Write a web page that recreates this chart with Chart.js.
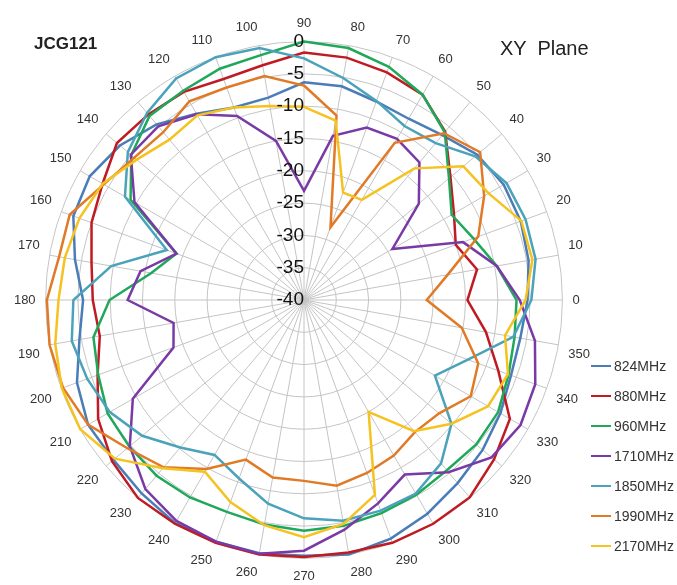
<!DOCTYPE html>
<html lang="en">
<head>
    <meta charset="UTF-8">
    <title>JCG121 XY Plane</title>
    <script src="https://cdn.jsdelivr.net/npm/chart.js"></script>
    <style>
        body {
            margin: 0;
            background: #ffffff;
            font-family: "Liberation Sans", Arial, sans-serif;
        }
        #wrap {
            position: relative;
            width: 677px;
            height: 585px;
            overflow: hidden;
        }
        #polarChart {
            position: absolute;
            left: 0;
            top: 0;
        }
        .title-left {
            position: absolute;
            left: 34px;
            top: 34px;
            font-size: 17px;
            font-weight: bold;
            color: #222;
        }
        .title-right {
            position: absolute;
            left: 500px;
            top: 37px;
            font-size: 20px;
            color: #222;
            white-space: pre;
        }
        #legend {
            position: absolute;
            left: 591px;
            top: 351px;
        }
        .legend-item {
            display: flex;
            align-items: center;
            height: 30px;
            font-size: 14px;
            color: #333;
        }
        .legend-line {
            width: 20px;
            height: 2px;
            margin-right: 3px;
        }
    </style>
</head>
<body>
<div id="wrap">
    <canvas id="polarChart" width="677" height="585"></canvas>
    <div class="title-left">JCG121</div>
    <div class="title-right">XY  Plane</div>
    <div id="legend"></div>
</div>

<script>
    // angles 0..350 (counter-clockwise from the right, like the original plot)
    const angles = [0, 10, 20, 30, 40, 50, 60, 70, 80, 90, 100, 110, 120, 130, 140, 150, 160, 170,
                    180, 190, 200, 210, 220, 230, 240, 250, 260, 270, 280, 290, 300, 310, 320, 330, 340, 350];

    const seriesNames = ['824MHz', '880MHz', '960MHz', '1710MHz', '1850MHz', '1990MHz', '2170MHz'];
    const seriesColors = ['#4a7db8', '#c01a22', '#1fa85a', '#7a3aa6', '#4aa3ba', '#e07a26', '#f5c220'];

    // gain in dB, one value per angle above
    const mhz824 = [-5.4, -4.7, -4.3, -4.3, -5.0, -6.7, -7.6, -7.3, -6.4, -6.3, -8.2, -8.3, -6.7, -4.5, -2.8, -1.7, -2.0, -4.0,
                    -5.8, -4.7, -2.6, -1.4, -1.5, -0.9, -0.1, -0.2, -0.2, -0.4, 0, -0.7, -1.8, -3.0, -3.9, -4.9, -5.9, -6.0];
    const mhz880 = [-14.7, -12.8, -15.0, -13.2, -10.4, -6.0, -3.3, -2.5, -1.9, -1.7, -3.1, -3.6, -2.8, -2.5, -2.2, -4.0, -5.0, -6.6,
                    -7.3, -7.9, -6.0, -3.2, -1.2, 0, 0, 0, 0, -0.2, -0.3, 0, 0, -0.1, -1.6, -3.2, -8.0, -11.4];
    const mhz960 = [-7.1, -9.7, -12.1, -13.6, -10.7, -6.1, -3.3, -1.6, -0.4, 0, -1.5, -1.9, -2.6, -2.8, -5.1, -9.0, -19.0, -16.0,
                    -9.9, -6.9, -6.1, -4.9, -4.7, -4.5, -4.7, -5.1, -4.7, -4.3, -4.5, -4.9, -5.2, -5.6, -5.2, -5.3, -6.3, -6.9];
    const mhz1710 = [-6.6, -9.7, -13.8, -24.2, -16.8, -12.2, -11.2, -11.6, -14.2, -23.1, -15.0, -9.7, -6.8, -4.9, -5.0, -9.7, -19.0, -14.3,
                     -12.7, -19.5, -18.5, -9.4, -4.8, -1.8, -0.5, -0.2, -0.1, -1.2, -3.9, -6.5, -8.8, -5.2, -2.1, -1.3, -1.9, -3.7];
    const mhz1850 = [-4.8, -3.6, -3.5, -3.8, -5.4, -8.3, -8.9, -7.2, -5.1, -2.6, -0.4, 0, -0.4, -2.2, -4.4, -8.0, -17.4, -9.7,
                     -4.3, -3.5, -4.3, -5.3, -7.3, -10.2, -12.3, -10.6, -8.0, -6.2, -5.3, -5.3, -5.4, -7.0, -10.2, -16.6, -13.0, -7.1];
    const mhz1990 = [-21.0, -17.4, -11.3, -7.8, -4.4, -6.3, -11.9, -28.0, -11.0, -6.8, -4.8, -5.0, -4.5, -6.1, -5.7, -4.2, -1.4, -1.5,
                     -0.2, 0, -0.3, -1.4, -4.3, -6.2, -9.8, -13.7, -12.1, -12.0, -10.8, -11.5, -12.2, -13.3, -12.7, -10.2, -11.3, -15.2];
    const mhz2170 = [-5.7, -4.1, -4.2, -7.0, -7.8, -13.4, -22.1, -22.3, -11.8, -10.1, -9.5, -8.3, -7.0, -7.6, -6.2, -4.0, -3.0, -2.4,
                     -2.0, -0.9, -0.1, 0, -1.8, -6.0, -9.3, -6.7, -4.6, -3.3, -4.8, -7.9, -20.0, -13.5, -10.2, -7.1, -6.4, -8.4];

    const seriesValues = [mhz824, mhz880, mhz960, mhz1710, mhz1850, mhz1990, mhz2170];

    // radial axis: -40 .. 0 dB every 5
    const radialMin = -40;
    const radialMax = 0;
    const radialStep = 5;

    // radar goes clockwise from the top, the plot goes counter-clockwise from 90
    const order = angles.map((a, i) => angles[(90 - i * 10 + 3600) % 360 / 10]);
    const labels = order.map(a => String(a));
    const pick = (values) => order.map(a => values[angles.indexOf(a)]);

    // tick labels drawn right-aligned on the vertical axis
    const tickLabelPlugin = {
        id: 'tickLabels',
        afterDatasetsDraw(chart) {
            const r = chart.scales.r;
            const ctx = chart.ctx;
            ctx.save();
            ctx.font = '19px "Liberation Sans", Arial, sans-serif';
            ctx.fillStyle = '#111';
            ctx.textAlign = 'right';
            ctx.textBaseline = 'middle';
            r.ticks.forEach(t => {
                const d = r.getDistanceFromCenterForValue(t.value);
                ctx.fillText(t.label, r.xCenter, r.yCenter - d);
            });
            ctx.restore();
        }
    };

    const ctx = document.getElementById('polarChart').getContext('2d');
    new Chart(ctx, {
        type: 'radar',
        data: {
            labels: labels,
            datasets: seriesNames.map((name, i) => ({
                label: name,
                data: pick(seriesValues[i]),
                borderColor: seriesColors[i],
                backgroundColor: seriesColors[i],
                borderWidth: 2.5,
                pointRadius: 0,
                fill: false,
                order: seriesNames.length - i
            }))
        },
        options: {
            responsive: false,
            animation: false,
            layout: {
                padding: { left: 0, right: 73, top: 17, bottom: 0 }
            },
            plugins: {
                legend: { display: false },
                tooltip: { enabled: false }
            },
            scales: {
                r: {
                    min: radialMin,
                    max: radialMax,
                    ticks: {
                        stepSize: radialStep,
                        display: false
                    },
                    grid: {
                        circular: true,
                        color: '#c4c4c4',
                        lineWidth: 1
                    },
                    angleLines: {
                        color: '#c4c4c4',
                        lineWidth: 1
                    },
                    pointLabels: {
                        padding: 10,
                        color: '#333',
                        font: { size: 13, family: '"Liberation Sans", Arial, sans-serif' }
                    }
                }
            }
        },
        plugins: [tickLabelPlugin]
    });

    // legend on the right, bottom
    const legendBox = document.getElementById('legend');
    seriesNames.forEach((name, i) => {
        const item = document.createElement('div');
        item.className = 'legend-item';
        item.innerHTML = '<span class="legend-line" style="background:' + seriesColors[i] + '"></span>' + name;
        legendBox.appendChild(item);
    });
</script>
</body>
</html>
